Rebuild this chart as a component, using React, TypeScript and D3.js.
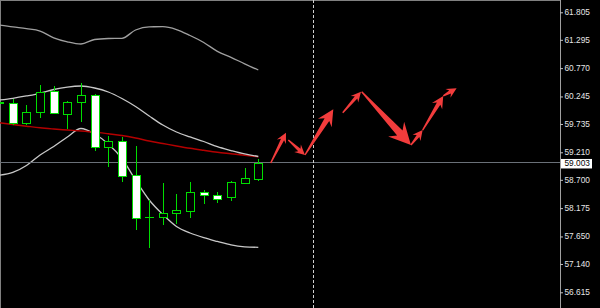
import React from 'react';
import * as d3 from 'd3';

const W = 600;
const H = 308;

// Price axis tick labels
const priceTicks = [61.805, 61.295, 60.77, 60.245, 59.735, 59.21, 58.7, 58.175, 57.65, 57.14, 56.615];
const lastPrice = 59.003;

// Candles (bar index, OHLC)
const barIndex = [-1, 0, 1, 2, 3, 4, 5, 6, 7, 8, 9, 10, 11, 12, 13, 14, 15, 16, 17, 18];
const opens = [60.118, 60.129, 59.748, 59.951, 60.346, 59.926, 60.148, 60.278, 59.314, 59.414, 58.78, 58.005, 58.016, 58.079, 58.116, 58.48, 58.419, 58.381, 58.635, 58.71];
const highs = [60.161, 60.204, 60.092, 60.458, 60.445, 60.161, 60.489, 60.287, 59.512, 59.499, 59.336, 58.335, 58.641, 58.432, 58.665, 58.511, 58.48, 58.684, 58.913, 59.086];
const lows = [60.105, 59.716, 59.716, 59.851, 59.92, 59.636, 59.777, 59.234, 58.932, 58.665, 57.77, 57.427, 57.857, 57.881, 57.987, 58.252, 58.265, 58.307, 58.63, 58.678];
const closes = [60.142, 59.748, 59.957, 60.333, 59.933, 60.148, 60.278, 59.314, 59.42, 58.776, 57.992, 58.005, 58.09, 58.135, 58.48, 58.413, 58.344, 58.654, 58.734, 59.003];

// Indicator lines (per bar)
const outerLine = [61.57, 61.533, 61.501, 61.458, 61.332, 61.258, 61.217, 61.301, 61.319, 61.323, 61.477, 61.536, 61.538, 61.486, 61.375, 61.245, 61.082, 60.971, 60.85, 60.736];
const upperBand = [60.179, 60.211, 60.254, 60.304, 60.374, 60.42, 60.439, 60.402, 60.328, 60.207, 60.059, 59.883, 59.716, 59.586, 59.494, 59.41, 59.314, 59.243, 59.179, 59.132];
const maLine = [59.759, 59.725, 59.694, 59.664, 59.642, 59.623, 59.605, 59.583, 59.553, 59.521, 59.475, 59.419, 59.373, 59.327, 59.284, 59.247, 59.212, 59.184, 59.156, 59.128];
const lowerBand = [58.784, 58.836, 58.965, 59.16, 59.318, 59.494, 59.651, 59.549, 59.364, 59.095, 58.697, 58.326, 58.057, 57.835, 57.714, 57.627, 57.557, 57.492, 57.458, 57.449];

// Forecast arrows (bar position, price)
const arrowFromBar = [18.91, 20.2, 21.42, 24.19, 25.58, 29.19, 30.05, 31.56];
const arrowFromPrice = [59.012, 59.438, 59.16, 59.944, 60.333, 59.345, 59.623, 60.254];
const arrowToBar = [20.03, 21.42, 23.5, 25.53, 29.19, 30.05, 31.56, 32.54];
const arrowToPrice = [59.573, 59.16, 60.007, 60.333, 59.345, 59.623, 60.254, 60.396];

// Vertical separator bar
const separatorBar = 22.01;

const GREEN = '#00dd00';
const RED_ARROW = '#f23c3c';

export default function App() {
  const axisX = 560;
  const x = d3.scaleLinear().domain([0, 18]).range([12.8, 258.3]);
  const y = d3.scaleLinear().domain([61.805, 56.615]).range([12.3, 292.3]);

  const mkLine = (vals: number[]) =>
    d3
      .line<number>()
      .x((_, i) => x(barIndex[i]))
      .y((v) => y(v))
      .curve(d3.curveMonotoneX)(vals) || '';

  const arrows = arrowFromBar.map((fb, i) => {
    const x0 = x(fb);
    const y0 = y(arrowFromPrice[i]);
    const x1 = x(arrowToBar[i]);
    const y1 = y(arrowToPrice[i]);
    const dx = x1 - x0;
    const dy = y1 - y0;
    const L = Math.hypot(dx, dy);
    const ux = dx / L;
    const uy = dy / L;
    const nx = -uy;
    const ny = ux;
    const hl = Math.max(10, L * 0.3);
    const hw = hl * 0.5;
    const sw = Math.max(1.6, hl * 0.17);
    const bx = x1 - ux * hl;
    const by = y1 - uy * hl;
    const jx = x1 - ux * hl * 0.75;
    const jy = y1 - uy * hl * 0.75;
    const pts = [
      [x0 + nx * 0.7, y0 + ny * 0.7],
      [jx + nx * sw, jy + ny * sw],
      [bx + nx * hw, by + ny * hw],
      [x1, y1],
      [bx - nx * hw, by - ny * hw],
      [jx - nx * sw, jy - ny * sw],
      [x0 - nx * 0.7, y0 - ny * 0.7],
    ];
    return pts.map((p) => p.join(',')).join(' ');
  });

  const sepX = Math.round(x(separatorBar)) + 0.5;
  const lastY = Math.round(y(lastPrice)) - 0.5;

  return (
    <svg
      width={W}
      height={H}
      style={{ position: 'absolute', left: 0, top: 0, background: '#000' }}
      fontFamily="'Liberation Sans', Arial, sans-serif"
    >
      <rect x={0} y={0} width={W} height={H} fill="#000" />
      {/* frame */}
      <line x1={0.5} y1={0} x2={0.5} y2={H} stroke="#808080" />
      <line x1={0} y1={0.5} x2={axisX} y2={0.5} stroke="#808080" />

      {/* indicators */}
      <path d={mkLine(outerLine)} fill="none" stroke="#a0a0a0" strokeWidth={1.3} />
      <path d={mkLine(lowerBand)} fill="none" stroke="#c8c8c8" strokeWidth={1.3} />
      <path d={mkLine(maLine)} fill="none" stroke="#b40000" strokeWidth={1.4} />
      <path d={mkLine(upperBand)} fill="none" stroke="#c8c8c8" strokeWidth={1.3} />

      {/* current price line */}
      <line x1={0} x2={axisX} y1={lastY} y2={lastY} stroke="#6a7078" strokeWidth={1} />

      {/* candles */}
      {barIndex.map((b, i) => {
        const cx = Math.round(x(b));
        const o = opens[i];
        const c = closes[i];
        const top = y(Math.max(o, c));
        const bot = y(Math.min(o, c));
        const bull = c > o;
        const doji = Math.abs(bot - top) < 1;
        return (
          <g key={i}>
            <line
              x1={cx + 0.5}
              x2={cx + 0.5}
              y1={Math.round(y(highs[i]))}
              y2={Math.round(y(lows[i]))}
              stroke={GREEN}
            />
            {doji ? (
              <line x1={cx - 4} x2={cx + 5} y1={Math.round(top) + 0.5} y2={Math.round(top) + 0.5} stroke={GREEN} />
            ) : (
              <rect
                x={cx - 4 + 0.5}
                y={Math.round(top) + 0.5}
                width={8}
                height={Math.max(1, Math.round(bot) - Math.round(top))}
                fill={bull ? '#000' : '#fff'}
                stroke={GREEN}
              />
            )}
          </g>
        );
      })}

      {/* separator */}
      <line x1={sepX} x2={sepX} y1={0} y2={H} stroke="#d0d0d0" strokeDasharray="3,2" />

      {/* arrows */}
      {arrows.map((p, i) => (
        <polygon key={i} points={p} fill={RED_ARROW} />
      ))}

      {/* price axis */}
      <line x1={axisX + 0.5} x2={axisX + 0.5} y1={0} y2={H} stroke="#a0a0a0" />
      {priceTicks.map((t) => (
        <g key={t} transform={`translate(0,${y(t)})`}>
          <line x1={axisX} x2={axisX + 3} y1={0.5} y2={0.5} stroke="#c0c0c0" />
          <text x={axisX + 4.5} y={0} dy="0.35em" fontSize={8.3} fill="#e6e6e6">
            {t.toFixed(3)}
          </text>
        </g>
      ))}
      <rect x={axisX + 1.5} y={y(lastPrice) - 4} width={30} height={8.5} fill="#fff" stroke="#fff" />
      <text x={axisX + 4.5} y={y(lastPrice)} dy="0.36em" fontSize={8.3} fill="#000">
        {lastPrice.toFixed(3)}
      </text>
    </svg>
  );
}
